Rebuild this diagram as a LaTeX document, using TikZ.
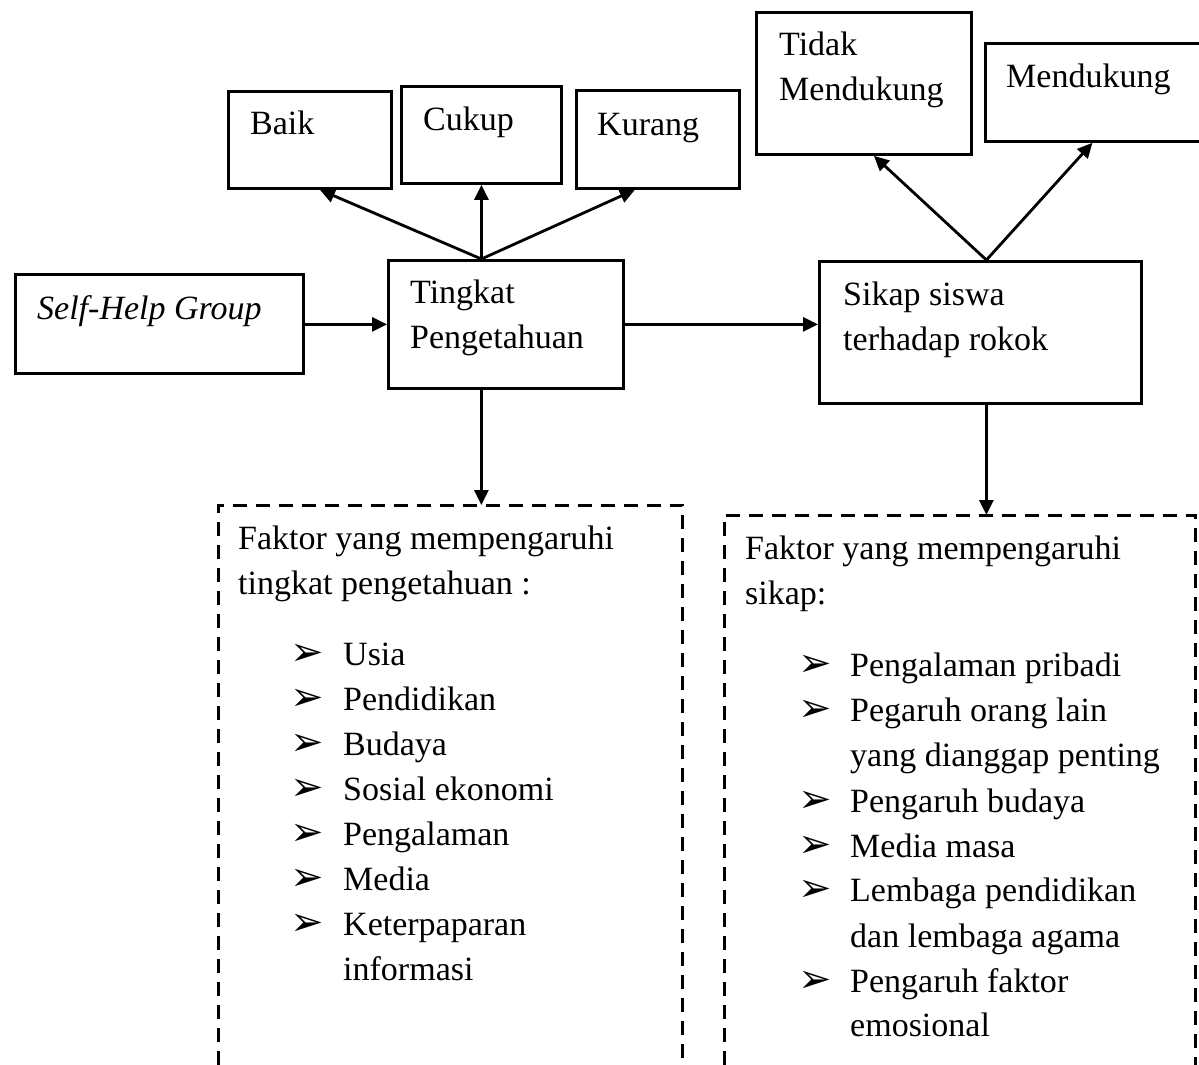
\documentclass[tikz,border=0pt]{standalone}
\usepackage{fontspec}
\setmainfont{Liberation Serif}
\newfontfamily\symfont{DejaVu Sans}
\usetikzlibrary{arrows.meta, positioning}
\newcommand{\diagfont}{\fontsize{34}{45}\selectfont}

\begin{document}
\begin{tikzpicture}[
    x=1pt, y=-1pt,
    box/.style={draw, line width=2.8pt, inner sep=0pt, anchor=north west},
    txt/.style={anchor=north west, align=left, inner sep=0pt, font=\diagfont},
    item/.style={anchor=base west, inner sep=0pt, font=\diagfont},
    bul/.style={anchor=base west, inner sep=0pt, font=\symfont\fontsize{40}{40}\selectfont},
    dep/.style={-{Triangle[length=15pt, width=14pt]}, line width=2.8pt},
    dashbox/.style={line width=3pt, dash pattern=on 14pt off 9pt}
]
    \useasboundingbox (0,0) rectangle (1199,1065);

    % boxes
    \node[box, minimum width=288, minimum height=99] (shg) at (14,273) {};
    \node[box, minimum width=235, minimum height=128] (tingkat) at (387,259) {};
    \node[box, minimum width=163, minimum height=97] (baik) at (227,90) {};
    \node[box, minimum width=160, minimum height=97] (cukup) at (400,85) {};
    \node[box, minimum width=163, minimum height=98] (kurang) at (575,89) {};
    \node[box, minimum width=322, minimum height=142] (sikap) at (818,260) {};
    \node[box, minimum width=215, minimum height=142] (tidak) at (755,11) {};
    \node[box, minimum width=230, minimum height=98] (dukung) at (984,42) {};

    % texts
    \node[item, font=\diagfont\itshape] (shgtxt) at (37,319) {Self-Help Group};
    \node[txt] (tingkattxt) at (410,280) {Tingkat\\Pengetahuan};
    \node[item] (baiktxt) at (250,134) {Baik};
    \node[item] (cukuptxt) at (423,130) {Cukup};
    \node[item] (kurangtxt) at (597,135) {Kurang};
    \node[txt] (sikaptxt) at (843,282) {Sikap siswa\\terhadap rokok};
    \node[txt] (tidaktxt) at (779,32) {Tidak\\Mendukung};
    \node[item] (dukungtxt) at (1006,88) {Mendukung};

    % dashed boxes, open at the bottom
    \node[minimum width=464, minimum height=560, inner sep=0pt, anchor=north west] (faktorL) at (218,505) {};
    \node[minimum width=471, minimum height=550, inner sep=0pt, anchor=north west] (faktorR) at (724,515) {};
    \draw[dashbox] (faktorL.south west) -- (faktorL.north west) -- (faktorL.north east) -- (faktorL.south east);
    \draw[dashbox] (faktorR.south west) -- (faktorR.north west) -- (faktorR.north east) -- (faktorR.south east);

    \node[txt] (faktorLtxt) at (238,526) {Faktor yang mempengaruhi\\tingkat pengetahuan :};
    \node[txt] (faktorRtxt) at (745,536) {Faktor yang mempengaruhi\\sikap:};

    \foreach \yy/\itm [count=\i] in {665/Usia, 710/Pendidikan, 755/Budaya, 800/Sosial ekonomi, 845/Pengalaman, 890/Media, 935/Keterpaparan} {
        \node[bul] (bl\i) at (290,\yy) {➢};
        \node[item] (il\i) at (343,\yy) {\itm};
    }
    \node[item] (il8) at (343,980) {informasi};

    \foreach \yy/\itm [count=\i] in {676/Pengalaman pribadi, 721/Pegaruh orang lain, 812/Pengaruh budaya, 857/Media masa, 901/Lembaga pendidikan, 992/Pengaruh faktor} {
        \node[bul] (br\i) at (798,\yy) {➢};
        \node[item] (ir\i) at (850,\yy) {\itm};
    }
    \foreach \yy/\itm [count=\i] in {766/yang dianggap penting, 947/dan lembaga agama, 1036/emosional}
        \node[item] (irc\i) at (850,\yy) {\itm};

    % connectors
    \draw[dep] (shg.east |- tingkat.west) -- (tingkat.west);
    \draw[dep] (tingkat.east) -- (tingkat.east -| sikap.west);
    \draw[dep] (tingkat.north -| cukup.south) -- ([xshift=10pt]baik.south);
    \draw[dep] (tingkat.north -| cukup.south) -- (cukup.south);
    \draw[dep] (tingkat.north -| cukup.south) -- ([xshift=-23pt]kurang.south);
    \draw[dep] ([xshift=6pt]sikap.north) -- ([xshift=10pt]tidak.south);
    \draw[dep] ([xshift=6pt]sikap.north) -- ([xshift=-8pt]dukung.south);
    \draw[dep] (tingkat.south -| cukup.south) -- (faktorL.north -| cukup.south);
    \draw[dep] ([xshift=6pt]sikap.south) -- ([xshift=6pt]sikap.south |- faktorR.north);
\end{tikzpicture}
\end{document}
